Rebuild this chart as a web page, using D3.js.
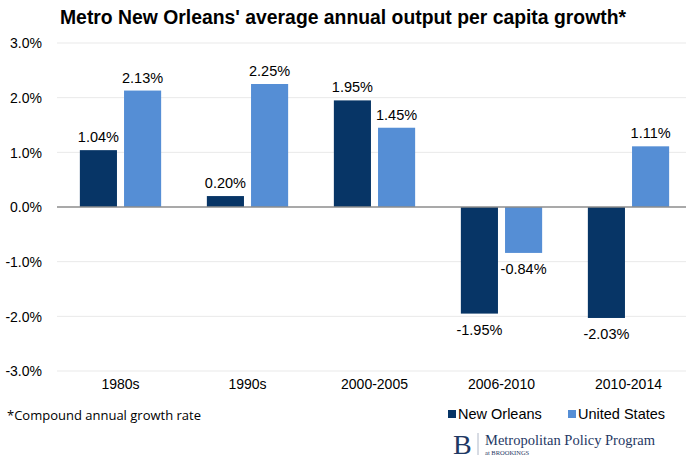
<!DOCTYPE html>
<html><head><meta charset="utf-8">
<script src="https://cdn.jsdelivr.net/npm/d3@7"></script>
<style>body{margin:0;background:#fff}svg{display:block}</style>
</head><body>
<svg id="c" width="686" height="463"></svg>
<script>
const categories = ["1980s","1990s","2000-2005","2006-2010","2010-2014"];
const seriesNames = ["New Orleans","United States"];
const newOrleans = [1.04, 0.20, 1.95, -1.95, -2.03];
const unitedStates = [2.13, 2.25, 1.45, -0.84, 1.11];
const yTicks = [3, 2, 1, 0, -1, -2, -3];
const colors = ["#073566", "#558ed5"];

const svg = d3.select("#c");
const font = "'Liberation Sans', Arial, sans-serif";
const loc = d3.formatLocale({decimal: ".", thousands: ",", grouping: [3], currency: ["", ""], minus: "-"});
const f1 = loc.format(".1f"), f2 = loc.format(".2f");

const x = d3.scaleBand().domain(categories).range([57, 692]).paddingInner(0.36).paddingOuter(0.18);
const xi = d3.scaleBand().domain(seriesNames).range([0, x.bandwidth()]).paddingInner(0.16);
const y = d3.scaleLinear().domain([-3, 3]).range([371, 43]);

// gridlines
svg.append("g").selectAll("line").data(yTicks.filter(d => d !== 0)).join("line")
  .attr("x1", 57).attr("x2", 686).attr("y1", d => y(d)).attr("y2", d => y(d))
  .attr("stroke", "#e9e9e9").attr("stroke-width", 1);

// y axis labels
const yAxis = d3.axisLeft(y).tickValues(yTicks).tickSize(0).tickPadding(0).tickFormat(d => f1(d) + "%");
const ga = svg.append("g").attr("transform", "translate(42,0)").call(yAxis);
ga.select(".domain").remove();
ga.selectAll("text").attr("font-family", font).attr("font-size", 14).attr("fill", "#000").attr("dy", "0.35em");

const rows = categories.map((c, i) => ({c, vals: [newOrleans[i], unitedStates[i]]}));
const g = svg.append("g");
rows.forEach(r => {
  r.vals.forEach((v, j) => {
    const bx = x(r.c) + xi(seriesNames[j]);
    g.append("rect").attr("x", bx).attr("width", xi.bandwidth())
      .attr("y", y(Math.max(0, v))).attr("height", Math.abs(y(v) - y(0)))
      .attr("fill", colors[j]);
    g.append("text").attr("x", bx + xi.bandwidth() / 2)
      .attr("y", v >= 0 ? y(v) - 8 : y(v) + 21)
      .attr("text-anchor", "middle").attr("font-family", font).attr("font-size", 14.5)
      .attr("fill", "#000").text(f2(v) + "%");
  });
});

// zero line
svg.append("line").attr("x1", 57).attr("x2", 686).attr("y1", y(0)).attr("y2", y(0))
  .attr("stroke", "#8c8c8c").attr("stroke-width", 1.3);

// x axis labels
const xAxis = d3.axisBottom(x).tickSize(0).tickPadding(0);
const gx = svg.append("g").attr("transform", "translate(0,384)").call(xAxis);
gx.select(".domain").remove();
gx.selectAll("text").attr("font-family", font).attr("font-size", 14).attr("fill", "#000").attr("dy", "0.35em");

// title
svg.append("text").attr("x", 343).attr("y", 24).attr("text-anchor", "middle")
  .attr("font-family", font).attr("font-weight", "bold").attr("font-size", 19.5)
  .attr("textLength", 566).attr("lengthAdjust", "spacingAndGlyphs")
  .attr("fill", "#000").text("Metro New Orleans' average annual output per capita growth*");

// footnote
svg.append("text").attr("x", 7).attr("y", 420)
  .attr("font-family", "'Open Sans', 'Noto Sans', sans-serif").attr("font-size", 12.5)
  .attr("textLength", 194).attr("lengthAdjust", "spacingAndGlyphs")
  .attr("fill", "#000").text("*Compound annual growth rate");

// legend
const legendX = [448, 568];
seriesNames.forEach((n, j) => {
  svg.append("rect").attr("x", legendX[j]).attr("y", 410).attr("width", 8).attr("height", 8).attr("fill", colors[j]);
  svg.append("text").attr("x", legendX[j] + 10).attr("y", 419)
    .attr("font-family", font).attr("font-size", 14.5).attr("fill", "#000").text(n);
});

// Brookings logo
const serif = "'Liberation Serif', 'DejaVu Serif', serif";
svg.append("text").attr("x", 453).attr("y", 454).attr("font-family", serif)
  .attr("font-size", 28).attr("fill", "#1f3864").text("B");
svg.append("line").attr("x1", 478).attr("x2", 478).attr("y1", 433).attr("y2", 455)
  .attr("stroke", "#b0b8c8").attr("stroke-width", 1);
svg.append("text").attr("x", 485).attr("y", 445).attr("font-family", serif)
  .attr("font-size", 15.5).attr("fill", "#1f3864")
  .attr("textLength", 170).attr("lengthAdjust", "spacingAndGlyphs").text("Metropolitan Policy Program");
svg.append("text").attr("x", 485).attr("y", 455).attr("font-family", serif)
  .attr("font-size", 6.5).attr("fill", "#1f3864").text("at BROOKINGS");
</script>
</body></html>
